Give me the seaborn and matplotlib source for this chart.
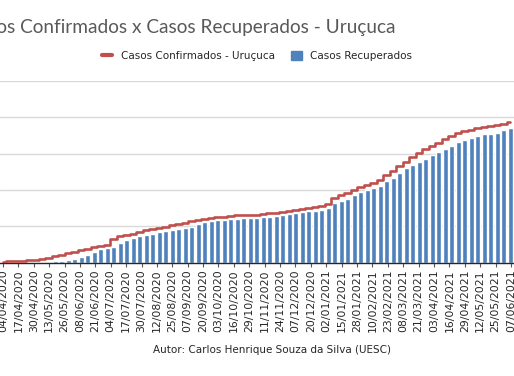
import numpy as np
import pandas as pd
import seaborn as sns
import matplotlib.pyplot as plt
from matplotlib.lines import Line2D
from matplotlib.patches import Patch

# cumulative counts, one value per bulletin (about every 5.5 days)
recuperados = [0, 0, 0, 1, 1, 2, 4, 6, 8, 11,
               16, 22, 30, 42, 57, 74, 80, 84, 110, 127,
               135, 145, 152, 158, 167, 175, 180, 186, 193, 199,
               214, 223, 229, 233, 237, 239, 242, 244, 246, 248,
               252, 254, 259, 264, 269, 273, 278, 282, 285, 289,
               300, 329, 342, 353, 370, 389, 401, 412, 424, 448,
               467, 495, 520, 538, 556, 568, 590, 611, 623, 645,
               662, 676, 689, 700, 706, 709, 716, 730, 740]
confirmados = [5, 7, 9, 11, 13, 16, 21, 28, 35, 43,
               52, 60, 70, 78, 86, 92, 100, 130, 145, 152,
               160, 168, 178, 186, 193, 199, 206, 213, 221, 228,
               236, 242, 247, 251, 254, 257, 260, 262, 264, 265,
               268, 271, 275, 279, 283, 288, 296, 302, 307, 312,
               323, 355, 370, 384, 399, 417, 428, 440, 455, 480,
               505, 530, 552, 584, 603, 625, 642, 660, 680, 700,
               714, 724, 731, 739, 746, 752, 758, 766, 775]

datas = ["04/04/2020", "17/04/2020", "30/04/2020", "13/05/2020", "26/05/2020",
         "08/06/2020", "21/06/2020", "04/07/2020", "17/07/2020", "30/07/2020",
         "12/08/2020", "25/08/2020", "07/09/2020", "20/09/2020", "03/10/2020",
         "16/10/2020", "29/10/2020", "11/11/2020", "24/11/2020", "07/12/2020",
         "20/12/2020", "02/01/2021", "15/01/2021", "28/01/2021", "10/02/2021",
         "23/02/2021", "08/03/2021", "21/03/2021", "03/04/2021", "16/04/2021",
         "29/04/2021", "12/05/2021", "25/05/2021", "07/06/2021"]

DIAS_POR_BARRA = 5.49   # labels are 13 days apart
AZUL = "#4F81BD"
VERMELHO = "#C0504D"

df = pd.DataFrame({"pos": np.arange(len(recuperados)),
                   "recuperados": recuperados,
                   "confirmados": confirmados})

sns.set_style("white")
plt.rcParams['font.family'] = ['DejaVu Sans']

fig = plt.figure(figsize=(5.14, 3.76), dpi=100)
ax = fig.add_axes([0, 0.3013, 1, 0.4833])

sns.barplot(data=df, x="pos", y="recuperados", color=AZUL, saturation=1,
            width=0.82, native_scale=True, ax=ax, zorder=2)
ax.plot(df["pos"], df["confirmados"], color=VERMELHO, lw=1.9,
        drawstyle="steps-mid", zorder=3)

ax.set_ylim(0, 1000)
ax.set_yticks(range(0, 1001, 200))
ax.yaxis.grid(True, color="#D9D9D9", lw=1)
ax.set_axisbelow(True)
ax.set_xlim(-0.5, 78.58)

pos_ticks = [j * 13 / DIAS_POR_BARRA - 0.04 for j in range(len(datas))]
ax.set_xticks(pos_ticks)
ax.set_xticklabels(datas, rotation=90, fontsize=7.8, color="#262626")
ax.tick_params(axis="x", length=3, width=0.8, color="#595959", pad=2, bottom=True)
ax.tick_params(axis="y", left=False, labelleft=False)
ax.set_xlabel("")
ax.set_ylabel("")
for s in ["top", "right", "left"]:
    ax.spines[s].set_visible(False)
ax.spines["bottom"].set_color("#262626")
ax.spines["bottom"].set_linewidth(1)

fig.text(395 / 514, 1 - 28 / 376, "Casos Confirmados x Casos Recuperados - Uruçuca",
         ha="right", va="center", fontsize=13.7, color="#595959", family="Lato")

handles = [Line2D([0], [0], color=VERMELHO, lw=3),
           Patch(facecolor=AZUL, edgecolor=AZUL)]
fig.legend(handles, ["Casos Confirmados - Uruçuca", "Casos Recuperados"],
           loc="center", bbox_to_anchor=(257 / 514, 1 - 56 / 376), ncol=2,
           frameon=False, fontsize=7.5, handlelength=1.0, handleheight=1.0,
           columnspacing=1.6, handletextpad=0.8)

fig.text(272 / 514, 1 - 350 / 376, "Autor: Carlos Henrique Souza da Silva (UESC)",
         ha="center", va="center", fontsize=7.5, color="#262626")

fig.savefig("out.png", dpi=100, facecolor="white")
